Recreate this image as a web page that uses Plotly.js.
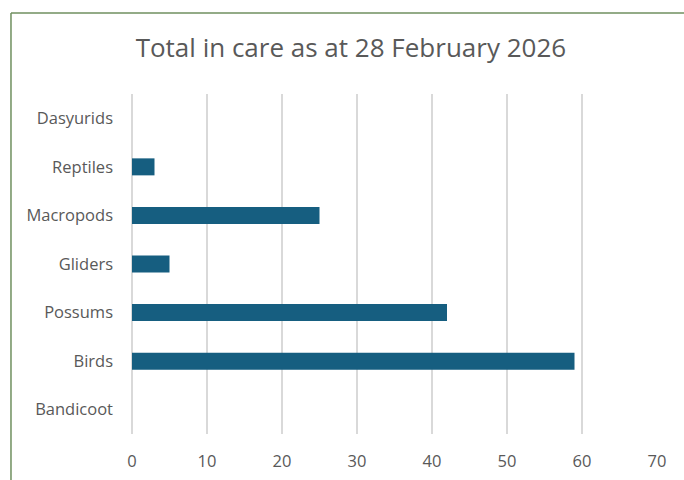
<!DOCTYPE html>
<html>
<head>
<meta charset="utf-8">
<script src="https://cdn.plot.ly/plotly-3.0.1.min.js"></script>
<style>html,body{margin:0;padding:0;background:#fff;}#chart{width:684px;height:480px;}</style>
</head>
<body>
<div id="chart"></div>
<script>
const categories = ['Bandicoot','Birds','Possums','Gliders','Macropods','Reptiles','Dasyurids'];
const counts = [0, 59, 42, 5, 25, 3, 0];
const xTicks = [0, 10, 20, 30, 40, 50, 60, 70];
const chartTitle = 'Total in care as at 28 February 2026';

const font = '"Open Sans", sans-serif';
const trace = {
  type: 'bar', orientation: 'h',
  x: counts, y: categories,
  width: 0.35,
  marker: {color: '#165e80', line: {width: 0}},
  hoverinfo: 'x+y'
};
const layout = {
  width: 684, height: 480,
  margin: {l: 132, r: 27, t: 94, b: 46},
  paper_bgcolor: '#fff', plot_bgcolor: '#fff',
  showlegend: false,
  title: {text: chartTitle, x: 0.513, xanchor: 'center', y: 0.9, yanchor: 'middle',
          font: {family: font, size: 26, color: '#595959'}},
  xaxis: {range: [0, 70], tickvals: xTicks, showgrid: true, gridcolor: '#d9d9d9', gridwidth: 1.5,
          zeroline: true, zerolinecolor: '#d9d9d9', zerolinewidth: 1.5, showline: false, ticks: '', ticklabelstandoff: 15,
          tickfont: {family: font, size: 16.5, color: '#595959'}, fixedrange: true},
  yaxis: {type: 'category', categoryorder: 'array', categoryarray: categories,
          showgrid: false, zeroline: false, showline: false, ticks: '', ticklabelstandoff: 18,
          tickfont: {family: font, size: 16.5, color: '#595959'}, fixedrange: true},
  shapes: [
    {type: 'line', xref: 'paper', yref: 'paper', x0: -0.2305, x1: -0.2305, y0: -0.2, y1: 1.238,
     line: {color: '#6f8f5f', width: 1.5}},
    {type: 'line', xref: 'paper', yref: 'paper', x0: -0.2305, x1: 1.1, y0: 1.238, y1: 1.238,
     line: {color: '#6f8f5f', width: 1.5}}
  ]
};
Plotly.newPlot('chart', [trace], layout, {displayModeBar: false, staticPlot: true});
</script>
</body>
</html>
